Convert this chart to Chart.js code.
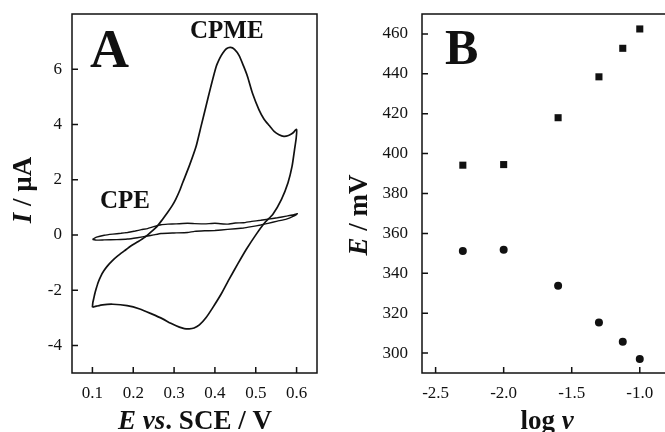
<!DOCTYPE html>
<html>
<head>
<meta charset="utf-8">
<script src="https://cdn.jsdelivr.net/npm/chart.js@4.4.1/dist/chart.umd.min.js"></script>
<style>
  html, body { margin: 0; padding: 0; background: #fff; overflow: hidden; }
  #wrap { position: relative; width: 665px; height: 432px; overflow: hidden; }
  canvas { position: absolute; top: 0; }
  #cvA { left: 0; }
  #cvB { left: 335px; }
</style>
</head>
<body>
<div id="wrap">
  <canvas id="cvA" width="335" height="432"></canvas>
  <!-- panel B runs a little past the right edge, its right border is cut off -->
  <canvas id="cvB" width="337" height="432"></canvas>
</div>
<script>
// Panel A: cyclic voltammograms, potential (V vs. SCE) and current (µA)
const cpmeE = [
  0.100, 0.101, 0.103, 0.106, 0.109, 0.114, 0.121, 0.128, 0.137, 0.149,
  0.162, 0.178, 0.194, 0.211, 0.227, 0.243, 0.259, 0.272, 0.284, 0.295,
  0.304, 0.313, 0.321, 0.337, 0.354, 0.366, 0.378, 0.390, 0.403, 0.412,
  0.419, 0.428, 0.438, 0.448, 0.459, 0.470, 0.480, 0.492, 0.508, 0.520,
  0.533, 0.545, 0.557, 0.569, 0.580, 0.590, 0.600,
  0.599, 0.595, 0.589, 0.579, 0.563, 0.542, 0.522, 0.501, 0.477, 0.456,
  0.435, 0.415, 0.394, 0.378, 0.362, 0.349, 0.337, 0.325, 0.313, 0.292,
  0.272, 0.245, 0.216, 0.185, 0.150, 0.125, 0.110, 0.100
];
const cpmeI = [
  -2.62, -2.45, -2.32, -2.12, -1.96, -1.72, -1.48, -1.30, -1.12, -0.93,
  -0.76, -0.58, -0.40, -0.25, -0.10, 0.10, 0.32, 0.57, 0.81, 1.05,
  1.29, 1.58, 1.89, 2.49, 3.21, 3.93, 4.65, 5.37, 6.09, 6.40,
  6.58, 6.74, 6.79, 6.72, 6.50, 6.12, 5.73, 5.13, 4.53, 4.20,
  3.96, 3.75, 3.63, 3.57, 3.60, 3.68, 3.82,
  3.50, 3.09, 2.49, 1.89, 1.29, 0.75, 0.44, 0.02, -0.52, -1.05,
  -1.60, -2.15, -2.65, -3.00, -3.26, -3.37, -3.40, -3.39, -3.34, -3.20,
  -3.04, -2.86, -2.68, -2.56, -2.51, -2.53, -2.58, -2.62
];
const cpeE = [
  0.100, 0.110, 0.129, 0.150, 0.170, 0.186, 0.205, 0.220, 0.235, 0.250,
  0.268, 0.285, 0.305, 0.333, 0.350, 0.375, 0.400, 0.431, 0.450, 0.470,
  0.490, 0.512, 0.530, 0.553, 0.575, 0.590, 0.602,
  0.590, 0.575, 0.553, 0.530, 0.512, 0.490, 0.470, 0.431, 0.400, 0.375,
  0.350, 0.333, 0.300, 0.268, 0.250, 0.235, 0.210, 0.186, 0.160, 0.129,
  0.110, 0.100
];
const cpeI = [
  -0.16, -0.08, -0.01, 0.03, 0.06, 0.09, 0.14, 0.19, 0.23, 0.30,
  0.37, 0.39, 0.40, 0.42, 0.41, 0.40, 0.42, 0.39, 0.43, 0.44,
  0.49, 0.53, 0.57, 0.62, 0.68, 0.72, 0.77,
  0.66, 0.57, 0.50, 0.42, 0.36, 0.30, 0.25, 0.20, 0.16, 0.15,
  0.13, 0.09, 0.07, 0.05, 0.00, -0.04, -0.10, -0.15, -0.17, -0.18,
  -0.19, -0.16
];
const xTicksA = [0.1, 0.2, 0.3, 0.4, 0.5, 0.6];
const yTicksA = [-4, -2, 0, 2, 4, 6];

// Panel B: peak potentials (mV) against log of scan rate
const logV = [-2.3, -2.0, -1.6, -1.3, -1.125, -1.0];
const epAnodic = [394.2, 394.5, 418, 438.5, 452.8, 462.5];
const epCathodic = [351.2, 351.8, 333.7, 315.3, 305.7, 297];
const xTicksB = [-2.5, -2.0, -1.5, -1.0];
const yTicksB = [300, 320, 340, 360, 380, 400, 420, 440, 460];

const SERIF = '"Liberation Serif", "Times New Roman", serif';
const INK = '#111';

const toPoints = (xs, ys) => xs.map((x, i) => ({ x: x, y: ys[i] }));

function drawRich(ctx, item) {
  ctx.save();
  ctx.translate(item.x, item.y);
  if (item.rotate) ctx.rotate(item.rotate);
  ctx.textBaseline = 'alphabetic';
  ctx.textAlign = 'left';
  ctx.fillStyle = INK;
  const fontFor = p => (p.italic ? 'italic ' : '') + 'bold ' + item.size + 'px ' + SERIF;
  let total = 0;
  item.parts.forEach(p => { ctx.font = fontFor(p); total += ctx.measureText(p.text).width; });
  let cx = item.align === 'left' ? 0 : -total / 2;
  item.parts.forEach(p => {
    ctx.font = fontFor(p);
    ctx.fillText(p.text, cx, 0);
    cx += ctx.measureText(p.text).width;
  });
  ctx.restore();
}

// box frame, inward tick marks and the bold labels
const framePlugin = {
  id: 'frame',
  afterDraw(chart, args, opts) {
    const { ctx, chartArea: a, scales } = chart;
    ctx.save();
    ctx.strokeStyle = INK;
    ctx.lineWidth = 1.5;
    ctx.strokeRect(a.left, a.top, a.right - a.left, a.bottom - a.top);
    ctx.beginPath();
    scales.x.ticks.forEach(t => {
      const px = scales.x.getPixelForValue(t.value);
      ctx.moveTo(px, a.bottom);
      ctx.lineTo(px, a.bottom - 6);
    });
    scales.y.ticks.forEach(t => {
      const py = scales.y.getPixelForValue(t.value);
      ctx.moveTo(a.left, py);
      ctx.lineTo(a.left + 6, py);
    });
    ctx.stroke();
    ctx.restore();
    (opts.labels || []).forEach(item => drawRich(ctx, item));
  }
};

function axisScale(ticksList, min, max, fixed, padding) {
  return {
    type: 'linear',
    min: min,
    max: max,
    grid: { display: false, drawTicks: false },
    border: { display: false },
    afterBuildTicks: s => { s.ticks = ticksList.map(v => ({ value: v })); },
    ticks: {
      color: INK,
      padding: padding,
      font: { family: SERIF, size: 17 },
      callback: fixed
    }
  };
}

// fixed axis boxes so the plot area lands at the same place every time
const baseOptions = (pad, yWidth, xScale, yScale, labels) => ({
  responsive: false,
  animation: false,
  events: [],
  layout: { padding: pad },
  plugins: {
    legend: { display: false },
    tooltip: { enabled: false },
    frame: { labels: labels }
  },
  scales: {
    x: Object.assign(xScale, { afterFit: s => {
      s.height = 59; s.paddingLeft = 0; s.paddingRight = 0;
    } }),
    y: Object.assign(yScale, { afterFit: s => {
      s.width = yWidth; s.paddingTop = 0; s.paddingBottom = 0;
    } })
  }
});

new Chart(document.getElementById('cvA'), {
  type: 'scatter',
  data: {
    datasets: [
      {
        data: toPoints(cpmeE, cpmeI),
        showLine: true,
        borderColor: INK,
        borderWidth: 1.7,
        pointRadius: 0,
        tension: 0.2
      },
      {
        data: toPoints(cpeE, cpeI),
        showLine: true,
        borderColor: INK,
        borderWidth: 1.4,
        pointRadius: 0,
        tension: 0.1
      }
    ]
  },
  options: baseOptions(
    { top: 14, right: 18, left: 0, bottom: 0 }, 72,
    axisScale(xTicksA, 0.05, 0.65, v => v.toFixed(1), 10),
    axisScale(yTicksA, -5, 8, v => String(v), 10),
    [
      { x: 90, y: 67, size: 54, align: 'left', parts: [{ text: 'A' }] },
      { x: 190, y: 38, size: 25, align: 'left', parts: [{ text: 'CPME' }] },
      { x: 100, y: 208, size: 25, align: 'left', parts: [{ text: 'CPE' }] },
      { x: 195, y: 429, size: 27, parts: [
        { text: 'E', italic: true }, { text: ' ' }, { text: 'vs', italic: true },
        { text: '. SCE / V' }
      ] },
      { x: 31, y: 190, size: 27, rotate: -Math.PI / 2, parts: [
        { text: 'I', italic: true }, { text: ' / µA' }
      ] }
    ]
  ),
  plugins: [framePlugin]
});

new Chart(document.getElementById('cvB'), {
  type: 'scatter',
  data: {
    datasets: [
      {
        data: toPoints(logV, epAnodic),
        pointStyle: 'rect',
        pointRadius: 5,
        backgroundColor: INK,
        borderColor: INK,
        borderWidth: 0
      },
      {
        data: toPoints(logV, epCathodic),
        pointStyle: 'circle',
        pointRadius: 4,
        backgroundColor: INK,
        borderColor: INK,
        borderWidth: 0
      }
    ]
  },
  options: baseOptions(
    { top: 14, right: 0, left: 0, bottom: 0 }, 87,
    axisScale(xTicksB, -2.6, -0.8, v => v.toFixed(1), 10),
    axisScale(yTicksB, 290, 470, v => String(v), 14),
    [
      { x: 110, y: 64, size: 50, align: 'left', parts: [{ text: 'B' }] },
      { x: 212, y: 429, size: 27, parts: [{ text: 'log ' }, { text: 'v', italic: true }] },
      { x: 32, y: 215, size: 27, rotate: -Math.PI / 2, parts: [
        { text: 'E', italic: true }, { text: ' / mV' }
      ] }
    ]
  ),
  plugins: [framePlugin]
});
</script>
</body>
</html>
